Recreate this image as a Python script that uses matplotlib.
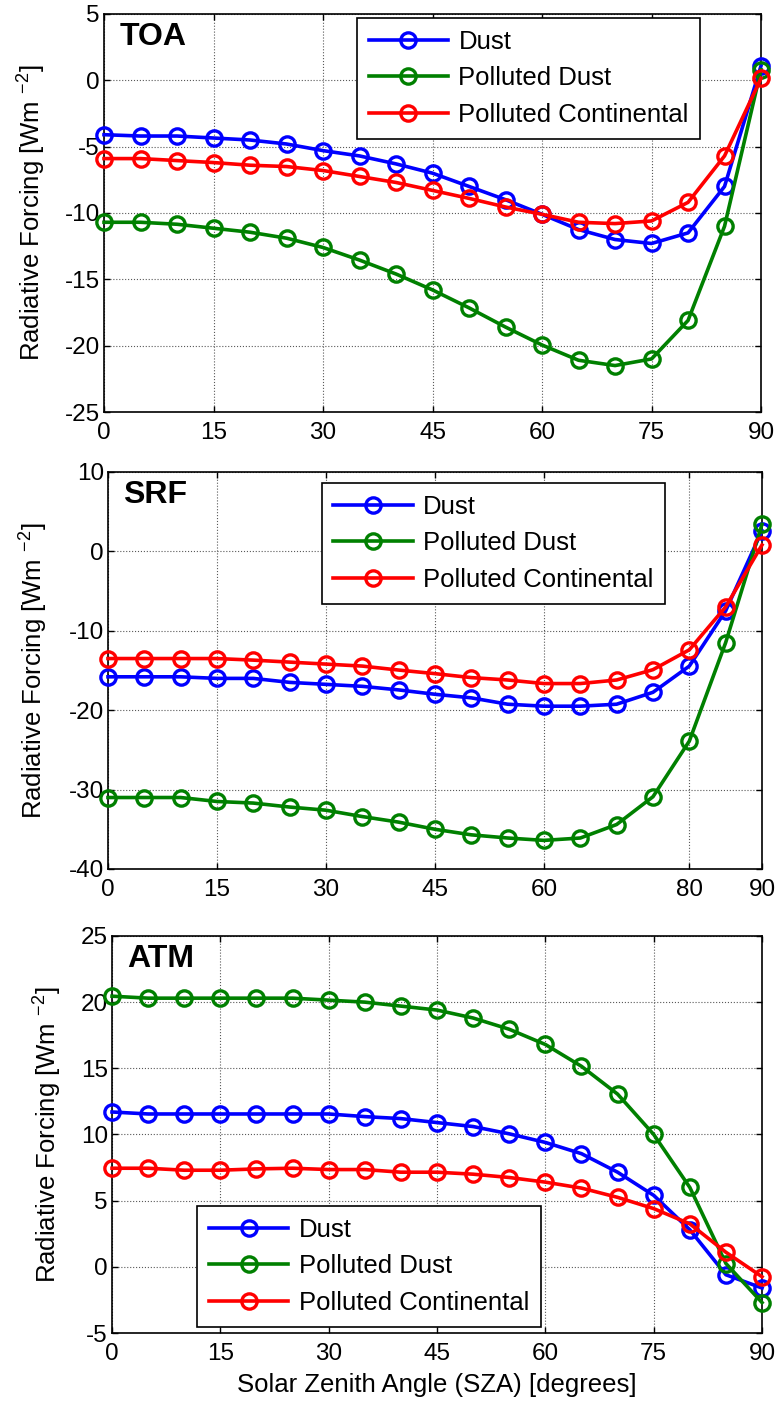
import matplotlib
matplotlib.use("Agg")
import matplotlib.pyplot as plt

plt.rcParams['font.family'] = ['Liberation Sans', 'DejaVu Sans']
plt.rcParams['mathtext.fontset'] = 'custom'
plt.rcParams['mathtext.rm'] = 'Liberation Sans'
plt.rcParams['mathtext.it'] = 'Liberation Sans:italic'
plt.rcParams['mathtext.bf'] = 'Liberation Sans:bold'
plt.rcParams['axes.unicode_minus'] = False

# Solar zenith angle (degrees)
sza = [0, 5, 10, 15, 20, 25, 30, 35, 40, 45, 50, 55, 60, 65, 70, 75, 80, 85, 90]

series_names = ["Dust", "Polluted Dust", "Polluted Continental"]
series_colors = ["#0000ff", "#008000", "#ff0000"]

# Top of atmosphere forcing (W m-2)
toa_dust = [-4.1, -4.2, -4.2, -4.35, -4.5, -4.8, -5.3, -5.7, -6.3, -7.0, -8.0,
            -9.0, -10.1, -11.25, -12.0, -12.3, -11.5, -8.0, 1.1]
toa_pdust = [-10.7, -10.7, -10.85, -11.15, -11.45, -11.9, -12.6, -13.55, -14.6,
             -15.8, -17.15, -18.6, -19.95, -21.1, -21.5, -21.0, -18.1, -11.0, 0.8]
toa_pcont = [-5.9, -5.9, -6.05, -6.2, -6.4, -6.5, -6.8, -7.25, -7.7, -8.3, -8.9,
             -9.55, -10.1, -10.7, -10.8, -10.6, -9.2, -5.7, 0.15]

# Surface forcing (W m-2)
srf_dust = [-15.8, -15.8, -15.8, -16.0, -16.0, -16.5, -16.75, -17.0, -17.45,
            -18.0, -18.45, -19.25, -19.5, -19.5, -19.25, -17.75, -14.45, -7.5, 2.6]
srf_pdust = [-31.0, -31.0, -31.0, -31.5, -31.7, -32.2, -32.6, -33.4, -34.1, -35.0,
             -35.7, -36.1, -36.4, -36.1, -34.4, -30.9, -23.9, -11.5, 3.4]
srf_pcont = [-13.5, -13.5, -13.5, -13.5, -13.7, -13.95, -14.2, -14.45, -14.95,
             -15.4, -15.9, -16.2, -16.65, -16.65, -16.2, -14.9, -12.4, -7.0, 0.8]

# Atmospheric forcing (W m-2)
atm_dust = [11.7, 11.55, 11.55, 11.55, 11.55, 11.55, 11.55, 11.35, 11.2, 10.9,
            10.6, 10.05, 9.4, 8.55, 7.15, 5.4, 2.8, -0.6, -1.6]
atm_pdust = [20.45, 20.3, 20.3, 20.3, 20.3, 20.3, 20.15, 20.0, 19.7, 19.4, 18.8,
             17.95, 16.8, 15.15, 13.05, 10.0, 6.0, 0.25, -2.7]
atm_pcont = [7.45, 7.45, 7.3, 7.3, 7.4, 7.45, 7.35, 7.35, 7.15, 7.15, 7.0, 6.75,
             6.4, 5.95, 5.25, 4.4, 3.25, 1.1, -0.75]

toa_yticks = [-25, -20, -15, -10, -5, 0, 5]
srf_yticks = [-40, -30, -20, -10, 0, 10]
atm_yticks = [-5, 0, 5, 10, 15, 20, 25]
toa_xticks = [0, 15, 30, 45, 60, 75, 90]
srf_xticks = [0, 15, 30, 45, 60, 80, 90]
atm_xticks = [0, 15, 30, 45, 60, 75, 90]

# name, series, y ticks, x ticks, axes rect, legend anchor, y-label x position
panels = [
    ("TOA", [toa_dust, toa_pdust, toa_pcont], toa_yticks, toa_xticks,
     [0.1337, 0.7078, 0.8445, 0.2823], (0.385, 0.990), -0.110),
    ("SRF", [srf_dust, srf_pdust, srf_pcont], srf_yticks, srf_xticks,
     [0.1388, 0.3837, 0.8406, 0.2816], (0.327, 0.972), -0.113),
    ("ATM", [atm_dust, atm_pdust, atm_pcont], atm_yticks, atm_xticks,
     [0.1440, 0.0546, 0.8355, 0.2816], (0.131, 0.320), -0.098),
]

fig = plt.figure(figsize=(7.78, 14.10), dpi=100)

for i, (name, data, yt, xt, rect, leg_anchor, ylab_x) in enumerate(panels):
    ax = fig.add_axes(rect)
    for vals, lab, col in zip(data, series_names, series_colors):
        ax.plot(sza, vals, '-o', color=col, lw=2.6, ms=11, mew=2.4,
                mfc='none', label=lab, clip_on=False, zorder=3)
    ax.set_xlim(0, 90)
    ax.set_ylim(yt[0], yt[-1])
    ax.set_xticks(xt)
    ax.set_yticks(yt)
    ax.grid(True, color='0.35', linestyle=':', linewidth=0.8)
    ax.tick_params(direction='in', top=True, right=True, length=4, width=1,
                   labelsize=17.5)
    ax.tick_params(axis='x', pad=7)
    ax.tick_params(axis='y', pad=3)
    for sp in ax.spines.values():
        sp.set_linewidth(1.2)
    ax.set_ylabel(r'Radiative Forcing [Wm $^{-2}$]', fontsize=18.5,
                  va='center')
    ax.yaxis.set_label_coords(ylab_x, 0.5)
    ax.annotate(name, xy=(0, 1), xycoords='axes fraction',
                xytext=(11, -6), textcoords='offset points',
                fontsize=23, fontweight='bold', ha='left', va='top')
    leg = ax.legend(loc='upper left', bbox_to_anchor=leg_anchor,
                    borderaxespad=0, fontsize=18.5, handlelength=3.1,
                    handletextpad=0.4, borderpad=0.45, labelspacing=0.5,
                    fancybox=False, framealpha=1, edgecolor='black')
    leg.get_frame().set_linewidth(1.2)
    if i == 2:
        ax.set_xlabel('Solar Zenith Angle (SZA) [degrees]', fontsize=18.5,
                      labelpad=6)

fig.savefig('out.png', dpi=100)
